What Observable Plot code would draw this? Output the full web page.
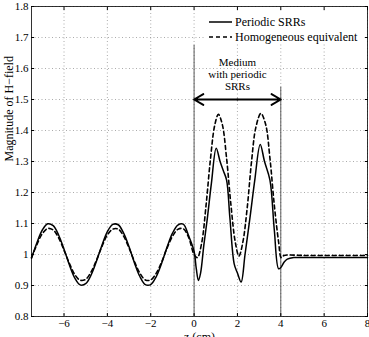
<!DOCTYPE html>
<html>
<head>
<meta charset="utf-8">
<script src="https://cdn.jsdelivr.net/npm/d3@7"></script>
<script src="https://cdn.jsdelivr.net/npm/@observablehq/plot@0.6"></script>
<style>
  html, body { margin: 0; padding: 0; background: #fff; overflow: hidden; }
  #chart svg { display: block; }
</style>
</head>
<body>
<div id="chart"></div>
<script>
// H-field magnitude along z: periodic SRR slab (0 <= z <= 4 cm) vs. its homogeneous equivalent
const zPeriodic = [
  -7.5, -7.25, -7, -6.75, -6.5, -6.25, -6, -5.75, -5.5, -5.25, -5, -4.75, -4.5, -4.25, -4,
  -3.75, -3.5, -3.25, -3, -2.75, -2.5, -2.25, -2, -1.75, -1.5, -1.25, -1, -0.75, -0.5, -0.25, 0,
  0.1, 0.2, 0.3, 0.45, 0.6, 0.8, 1.02, 1.2, 1.35, 1.5, 1.65, 1.85, 2, 2.17, 2.35, 2.6, 2.8,
  3.05, 3.25, 3.5, 3.7, 3.9, 4, 4.15, 4.3, 4.6, 5, 6, 7, 8
];
const hPeriodic = [
  0.988, 1.038, 1.079, 1.099, 1.093, 1.063, 1.017, 0.966, 0.924, 0.902, 0.906, 0.934, 0.979, 1.030, 1.074,
  1.097, 1.096, 1.069, 1.025, 0.973, 0.929, 0.903, 0.903, 0.928, 0.971, 1.023, 1.068, 1.095, 1.098, 1.06, 1.01,
  0.955, 0.916, 0.94, 1.03, 1.11, 1.23, 1.343, 1.30, 1.27, 1.24, 1.12, 0.97, 0.94, 0.911, 1.00, 1.13, 1.24,
  1.355, 1.30, 1.24, 1.08, 0.954, 0.958, 0.975, 0.985, 0.99, 0.99, 0.99, 0.99, 0.99
];

const zHomogeneous = [
  -7.5, -7.25, -7, -6.75, -6.5, -6.25, -6, -5.75, -5.5, -5.25, -5, -4.75, -4.5, -4.25, -4,
  -3.75, -3.5, -3.25, -3, -2.75, -2.5, -2.25, -2, -1.75, -1.5, -1.25, -1, -0.75, -0.5, -0.25, 0,
  0.15, 0.35, 0.55, 0.75, 0.95, 1.12, 1.3, 1.5, 1.7, 1.9, 2.07, 2.25, 2.45, 2.65, 2.85,
  3.08, 3.3, 3.5, 3.7, 3.9, 4.02, 4.15, 5, 6, 7, 8
];
const hHomogeneous = [
  0.990, 1.032, 1.067, 1.084, 1.079, 1.054, 1.014, 0.971, 0.935, 0.917, 0.920, 0.944, 0.982, 1.026, 1.063,
  1.082, 1.082, 1.059, 1.021, 0.977, 0.940, 0.918, 0.918, 0.939, 0.975, 1.020, 1.058, 1.081, 1.083, 1.055, 1.0,
  0.99, 1.037, 1.157, 1.304, 1.416, 1.452, 1.42, 1.31, 1.16, 1.04, 0.995, 1.04, 1.15, 1.30, 1.41,
  1.455, 1.42, 1.31, 1.16, 1.04, 0.99, 0.997, 0.997, 0.997, 0.997, 0.997
];

const xTicks = [-6, -4, -2, 0, 2, 4, 6, 8];
const yTicks = [0.8, 0.9, 1.0, 1.1, 1.2, 1.3, 1.4, 1.5, 1.6, 1.7, 1.8];

// slab boundaries and how high each marker line reaches
const slabEdges = [0, 4];
const slabEdgeTops = [1.675, 1.54];
const slabArrowY = 1.5;
const slabNote = ["Medium", "with periodic", "SRRs"];
const slabNoteY = [1.619, 1.581, 1.542];

const legendLabels = ["Periodic SRRs", "Homogeneous equivalent"];
const xLabel = "z (cm)";
const yLabel = "Magnitude of H\u2212field";

const periodicRows = zPeriodic.map((z, i) => ({z, h: hPeriodic[i]}));
const homogeneousRows = zHomogeneous.map((z, i) => ({z, h: hHomogeneous[i]}));
const edgeRows = slabEdges.map((z, i) => ({z, top: slabEdgeTops[i]}));
const mid = (slabEdges[0] + slabEdges[1]) / 2;
const arrowRows = slabEdges.map(z => ({x1: mid, x2: z, y: slabArrowY}));
const noteRows = slabNote.map((t, i) => ({t, y: slabNoteY[i]}));

const font = "'Liberation Serif', 'Times New Roman', serif";
const fmt = d => d3.format("~g")(d);

const chart = Plot.plot({
  width: 369,
  height: 337,
  marginLeft: 31,
  marginRight: 2,
  marginTop: 6,
  marginBottom: 21,
  style: {fontFamily: font, fontSize: "11px", color: "black", background: "white"},
  x: {domain: [-7.5, 8], ticks: xTicks},
  y: {domain: [0.8, 1.8], ticks: yTicks},
  marks: [
    Plot.gridX(xTicks, {stroke: "#888", strokeOpacity: 0.7, strokeDasharray: "1,2.5"}),
    Plot.gridY(yTicks, {stroke: "#888", strokeOpacity: 0.7, strokeDasharray: "1,2.5"}),
    Plot.ruleX(edgeRows, {x: "z", y1: 0.8, y2: "top", stroke: "#333", strokeWidth: 0.8}),
    Plot.line(homogeneousRows, {x: "z", y: "h", stroke: "black", strokeWidth: 1.6, strokeDasharray: "4,3", curve: "catmull-rom"}),
    Plot.line(periodicRows, {x: "z", y: "h", stroke: "black", strokeWidth: 1.5, curve: "catmull-rom"}),
    Plot.arrow(arrowRows, {x1: "x1", x2: "x2", y1: "y", y2: "y", stroke: "black", strokeWidth: 2, headLength: 8}),
    Plot.text(noteRows, {x: mid, y: "y", text: "t", fontSize: 11, fill: "black"}),
    Plot.axisX(xTicks, {anchor: "bottom", tickSize: -3, tickPadding: 6, tickFormat: fmt, label: null, fontSize: 11}),
    Plot.axisX(xTicks, {anchor: "top", tickSize: -3, tickFormat: () => "", label: null}),
    Plot.axisY(yTicks, {anchor: "left", tickSize: -3, tickPadding: 6, tickFormat: fmt, label: null, fontSize: 11}),
    Plot.axisY(yTicks, {anchor: "right", tickSize: -3, tickFormat: () => "", label: null}),
    Plot.text([xLabel], {frameAnchor: "bottom", dy: 24, fontSize: 12, fill: "black"}),
    Plot.text([yLabel], {frameAnchor: "left", dx: -22, rotate: -90, fontSize: 12, fill: "black"}),
    Plot.frame({stroke: "black", strokeWidth: 0.8})
  ]
});

document.getElementById("chart").append(chart);

// legend box in the upper right of the frame
const svg = d3.select(chart);
const lg = svg.append("g")
  .attr("font-family", font)
  .attr("font-size", 12)
  .attr("text-anchor", "start");
lg.append("rect").attr("x", 204).attr("y", 11).attr("width", 160).attr("height", 33).attr("fill", "white");
legendLabels.forEach((label, i) => {
  const y = 22 + i * 15;
  lg.append("line")
    .attr("x1", 209).attr("x2", 232).attr("y1", y).attr("y2", y)
    .attr("stroke", "black").attr("stroke-width", 1.5)
    .attr("stroke-dasharray", i === 0 ? null : "4,3");
  lg.append("text")
    .attr("x", 235).attr("y", y).attr("dy", "0.35em")
    .attr("text-anchor", "start").attr("fill", "black")
    .text(label);
});
// keep the frame on top of the legend background
svg.node().appendChild(svg.select("[aria-label=frame]").node());
</script>
</body>
</html>
